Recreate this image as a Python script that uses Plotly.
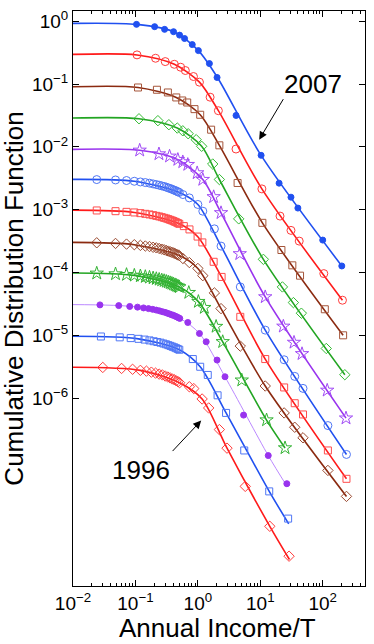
import plotly.graph_objects as go

# ---------------- data ----------------
years = [2007, 2006, 2005, 2004, 2003, 2002, 2001, 2000, 1999, 1998, 1997, 1996]

# 2007 – blue filled circles
x_2007 = [0.104, 0.203, 0.293, 0.408, 0.509, 0.612, 0.813, 1.02, 1.53, 2.03, 4.09, 10.3, 20, 31, 40, 100, 202]
cdf_2007 = [0.89, 0.818, 0.741, 0.68, 0.60, 0.53, 0.424, 0.34, 0.2115, 0.127, 0.0316, 0.00733, 0.00264, 0.00158, 0.00106, 3.28e-4, 1.27e-4]
# 2006 – red open circles
x_2006 = [0.106, 0.21, 0.30, 0.42, 0.53, 0.63, 0.85, 1.06, 1.57, 2.13, 4.08, 10.6, 20.7, 31, 42, 104, 207]
cdf_2006 = [0.2907, 0.257, 0.2275, 0.206, 0.185, 0.164, 0.1315, 0.107, 0.0617, 0.0376, 0.00923, 0.00214, 7.9e-4, 4.68e-4, 3.16e-4, 9.6e-5, 3.62e-5]
# 2005 – brown squares
x_2005 = [0.11, 0.221, 0.331, 0.451, 0.562, 0.675, 0.883, 1.09, 1.63, 2.21, 4.33, 10.8, 21.8, 32.6, 43.3, 108, 212]
cdf_2005 = [0.088, 0.081, 0.0733, 0.0611, 0.0547, 0.0508, 0.0398, 0.0324, 0.01875, 0.01057, 0.00266, 6.17e-4, 2.28e-4, 1.3e-4, 8.9e-5, 2.6e-5, 1.0e-5]
# 2004 – green diamonds
x_2004 = [0.114, 0.229, 0.343, 0.468, 0.574, 0.70, 0.94, 1.15, 1.73, 2.21, 4.51, 11.2, 22.6, 33.9, 45.5, 114, 226]
cdf_2004 = [0.028, 0.0261, 0.0225, 0.0199, 0.018, 0.01616, 0.013, 0.0102, 0.00533, 0.00302, 7.14e-4, 1.62e-4, 5.89e-5, 3.32e-5, 2.25e-5, 6.17e-6, 2.36e-6]
# 2003 – purple stars
x_2003 = [0.117, 0.238, 0.352, 0.478, 0.574, 0.69, 0.975, 1.20, 1.79, 2.35, 4.69, 12.0, 23.4, 34.7, 46.6, 118, 236]
cdf_2003 = [0.0088, 0.00769, 0.00707, 0.00626, 0.00574, 0.00521, 0.00384, 0.00301, 0.0016, 8.9e-4, 1.98e-4, 4.08e-5, 1.39e-5, 7.7e-6, 5.08e-6, 1.33e-6, 4.8e-7]
# 2002 – blue open circles
x_2002 = [0.024, 0.048, 0.072, 0.096, 0.12, 0.144, 0.168, 0.192, 0.216, 0.24, 0.264, 0.288, 0.312, 0.336, 0.36,
          0.384, 0.408, 0.432, 0.456, 0.48, 0.504, 0.576, 0.73, 1.0, 1.2, 1.84, 2.35, 4.78, 12.0, 24.1, 35.6, 48.3, 121, 240]
cdf_2002 = [0.00301, 0.00297, 0.00291, 0.00283, 0.00276, 0.0027, 0.00264, 0.00257, 0.00251, 0.00245, 0.00239, 0.00234,
            0.00228, 0.00222, 0.00217, 0.00212, 0.00206, 0.00202, 0.00197, 0.00192, 0.00188, 0.00174, 0.00154, 0.00121,
            9.46e-4, 4.95e-4, 2.63e-4, 5.89e-5, 1.21e-5, 4.08e-6, 2.22e-6, 1.43e-6, 3.66e-7, 1.27e-7]
# 2001 – red squares
x_2001 = [0.024, 0.048, 0.072, 0.096, 0.12, 0.144, 0.168, 0.192, 0.216, 0.24, 0.264, 0.288, 0.312, 0.336, 0.36,
          0.384, 0.408, 0.432, 0.456, 0.48, 0.504, 0.596, 0.734, 0.99, 1.18, 1.79, 2.4, 4.78, 12.0, 24.1, 35.6, 48.3, 121, 240]
cdf_2001 = [9.71e-4, 9.46e-4, 9.23e-4, 9.03e-4, 8.8e-4, 8.58e-4, 8.39e-4, 8.18e-4, 7.97e-4, 7.8e-4, 7.6e-4, 7.41e-4,
            7.25e-4, 7.07e-4, 6.89e-4, 6.74e-4, 6.57e-4, 6.4e-4, 6.26e-4, 6.1e-4, 5.95e-4, 5.47e-4, 4.85e-4, 3.73e-4,
            3.01e-4, 1.48e-4, 8.5e-5, 1.97e-5, 4.19e-6, 1.48e-6, 8.3e-7, 5.5e-7, 1.47e-7, 5.2e-8]
# 2000 – brown diamonds
x_2000 = [0.024, 0.048, 0.072, 0.096, 0.12, 0.144, 0.168, 0.192, 0.216, 0.24, 0.264, 0.288, 0.312, 0.336, 0.36,
          0.384, 0.408, 0.432, 0.456, 0.48, 0.504, 0.576, 0.73, 1.0, 1.2, 1.84, 2.35, 4.78, 12.0, 24.1, 35.6, 48.3, 121, 240]
cdf_2000 = [2.97e-4, 2.90e-4, 2.83e-4, 2.77e-4, 2.70e-4, 2.64e-4, 2.59e-4, 2.52e-4, 2.47e-4, 2.41e-4, 2.35e-4, 2.30e-4,
            2.24e-4, 2.19e-4, 2.14e-4, 2.09e-4, 2.05e-4, 2.0e-4, 1.95e-4, 1.90e-4, 1.86e-4, 1.67e-4, 1.44e-4, 1.16e-4,
            8.9e-5, 4.73e-5, 2.66e-5, 6.74e-6, 1.56e-6, 5.82e-7, 3.44e-7, 2.34e-7, 7.07e-8, 2.73e-8]
# 1999 – green stars
x_1999 = [0.024, 0.048, 0.072, 0.096, 0.12, 0.144, 0.168, 0.192, 0.216, 0.24, 0.264, 0.288, 0.312, 0.336, 0.36,
          0.384, 0.408, 0.432, 0.456, 0.48, 0.504, 0.716, 1.02, 1.27, 1.96, 2.5, 5.05, 12.6, 24.9]
cdf_1999 = [9.71e-5, 9.46e-5, 9.23e-5, 8.99e-5, 8.79e-5, 8.57e-5, 8.36e-5, 8.15e-5, 7.94e-5, 7.74e-5, 7.55e-5, 7.38e-5,
            7.19e-5, 7.01e-5, 6.84e-5, 6.67e-5, 6.5e-5, 6.34e-5, 6.19e-5, 6.04e-5, 5.89e-5, 4.78e-5, 3.44e-5, 2.76e-5,
            1.38e-5, 7.89e-6, 1.93e-6, 4.48e-7, 1.61e-7]
# 1998 – purple filled circles
x_1998 = [0.027, 0.054, 0.081, 0.108, 0.135, 0.162, 0.189, 0.216, 0.243, 0.27, 0.297, 0.324, 0.351, 0.378, 0.405,
          0.432, 0.459, 0.486, 0.513, 0.69, 1.06, 1.36, 2.03, 2.72, 5.4, 13.4, 26.6]
cdf_1998 = [3.05e-5, 2.97e-5, 2.88e-5, 2.81e-5, 2.73e-5, 2.66e-5, 2.59e-5, 2.52e-5, 2.45e-5, 2.38e-5, 2.32e-5, 2.25e-5,
            2.19e-5, 2.13e-5, 2.08e-5, 2.02e-5, 1.97e-5, 1.91e-5, 1.86e-5, 1.6e-5, 1.07e-5, 7.89e-6, 4.04e-6, 2.19e-6,
            5.37e-7, 1.22e-7, 4.35e-8]
# 1997 – blue squares
x_1997 = [0.028, 0.056, 0.084, 0.112, 0.14, 0.168, 0.196, 0.224, 0.252, 0.28, 0.308, 0.336, 0.364, 0.392, 0.42,
          0.448, 0.476, 0.504, 0.83, 1.09, 1.44, 2.07, 2.83, 5.53, 13.9, 27.9]
cdf_1997 = [9.58e-6, 9.29e-6, 9.03e-6, 8.79e-6, 8.55e-6, 8.3e-6, 8.05e-6, 7.83e-6, 7.64e-6, 7.41e-6, 7.2e-6, 6.98e-6,
            6.79e-6, 6.59e-6, 6.43e-6, 6.24e-6, 6.07e-6, 5.89e-6, 4.19e-6, 3.16e-6, 2.34e-6, 1.11e-6, 5.82e-7, 1.47e-7,
            3.28e-8, 1.21e-8]
# 1996 – red diamonds
x_1996 = [0.03, 0.06, 0.09, 0.12, 0.15, 0.18, 0.21, 0.24, 0.27, 0.3, 0.33, 0.36, 0.39, 0.42, 0.45, 0.48, 0.51,
          0.73, 0.86, 1.17, 1.49, 2.21, 2.93, 5.74, 14.2, 28.9]
cdf_1996 = [3.08e-6, 2.97e-6, 2.88e-6, 2.77e-6, 2.69e-6, 2.59e-6, 2.5e-6, 2.41e-6, 2.34e-6, 2.25e-6, 2.17e-6, 2.1e-6,
            2.02e-6, 1.96e-6, 1.89e-6, 1.83e-6, 1.76e-6, 1.52e-6, 1.42e-6, 9.7e-7, 6.98e-7, 3.16e-7, 1.6e-7, 3.94e-8,
            9.12e-9, 3.05e-9]

# fitted curves
fitx_2007 = [0.01, 0.105, 0.41, 1.02, 2.06, 10.3, 202]
fit_2007 = [0.923, 0.89, 0.68, 0.34, 0.127, 0.0073, 1.27e-4]
fitx_2006 = [0.01, 0.106, 0.42, 1.06, 2.13, 10.6, 207]
fit_2006 = [0.296, 0.29, 0.206, 0.107, 0.0376, 0.00214, 3.62e-5]
fitx_2005 = [0.01, 0.11, 0.451, 1.09, 2.21, 10.8, 212]
fit_2005 = [0.0903, 0.088, 0.0611, 0.0324, 0.01057, 6.17e-4, 1.0e-5]
fitx_2004 = [0.01, 0.114, 0.468, 1.15, 2.21, 11.2, 226]
fit_2004 = [0.0287, 0.028, 0.0199, 0.0102, 0.00302, 1.62e-4, 2.36e-6]
fitx_2003 = [0.01, 0.117, 0.478, 1.2, 2.35, 12, 236]
fit_2003 = [0.00912, 0.0088, 0.00626, 0.00301, 8.9e-4, 4.08e-5, 4.8e-7]
fitx_2002 = [0.01, 0.096, 0.504, 1.0, 2.35, 12, 240]
fit_2002 = [0.00303, 0.00283, 0.00188, 0.00121, 2.63e-4, 1.21e-5, 1.27e-7]
fitx_2001 = [0.01, 0.096, 0.504, 0.99, 2.4, 12, 240]
fit_2001 = [9.82e-4, 9.03e-4, 5.95e-4, 3.73e-4, 8.5e-5, 4.19e-6, 5.2e-8]
fitx_2000 = [0.01, 0.096, 0.504, 1.0, 2.35, 12, 240]
fit_2000 = [3.01e-4, 2.77e-4, 1.86e-4, 1.16e-4, 2.66e-5, 1.56e-6, 2.73e-8]
fitx_1999 = [0.01, 0.096, 0.504, 1.02, 2.5, 12.6, 24.9]
fit_1999 = [9.82e-5, 8.99e-5, 5.89e-5, 3.44e-5, 7.89e-6, 4.48e-7, 1.61e-7]
fitx_1998 = [0.01, 0.108, 0.513, 1.06, 2.72, 13.4, 27.0]
fit_1998 = [3.08e-5, 2.81e-5, 1.86e-5, 1.07e-5, 2.19e-6, 1.22e-7, 3.9e-8]
fitx_1997 = [0.01, 0.112, 0.504, 1.09, 2.83, 13.9, 28.5]
fit_1997 = [9.64e-6, 8.79e-6, 5.89e-6, 3.16e-6, 5.82e-7, 3.28e-8, 1.0e-8]
fitx_1996 = [0.01, 0.12, 0.51, 1.17, 2.93, 14.2, 29.3]
fit_1996 = [3.1e-6, 2.77e-6, 1.76e-6, 9.7e-7, 1.6e-7, 9.12e-9, 2.7e-9]

x_tick_vals = [0.01, 0.1, 1, 10, 100]
x_tick_text = ["10<sup>\u22122</sup>", "10<sup>\u22121</sup>", "10<sup>0</sup>", "10<sup>1</sup>", "10<sup>2</sup>"]
y_tick_vals = [1, 0.1, 0.01, 1e-3, 1e-4, 1e-5, 1e-6]
y_tick_text = ["10<sup>0</sup>", "10<sup>\u22121</sup>", "10<sup>\u22122</sup>", "10<sup>\u22123</sup>",
               "10<sup>\u22124</sup>", "10<sup>\u22125</sup>", "10<sup>\u22126</sup>"]

# ---------------- styles ----------------
BLUE = "#2050f0"
RED = "#ff1a1a"
BROWN = "#8b2a10"
GREEN = "#22a522"
PURPLE = "#9933ee"

series = [
    (x_2007, cdf_2007, fitx_2007, fit_2007, BLUE, BLUE, "circle", 6, 1.6),
    (x_2006, cdf_2006, fitx_2006, fit_2006, RED, "#ff3b3b", "circle-open", 8, 1.6),
    (x_2005, cdf_2005, fitx_2005, fit_2005, BROWN, "#a5553a", "square-open", 7, 1.6),
    (x_2004, cdf_2004, fitx_2004, fit_2004, GREEN, "#33bb33", "diamond-open", 8, 1.6),
    (x_2003, cdf_2003, fitx_2003, fit_2003, PURPLE, "#a04af5", "star-open", 10, 1.6),
    (x_2002, cdf_2002, fitx_2002, fit_2002, BLUE, "#4f76f5", "circle-open", 8, 1.6),
    (x_2001, cdf_2001, fitx_2001, fit_2001, RED, "#ff4d4d", "square-open", 7, 1.6),
    (x_2000, cdf_2000, fitx_2000, fit_2000, BROWN, "#9a4a30", "diamond-open", 8, 1.6),
    (x_1999, cdf_1999, fitx_1999, fit_1999, GREEN, "#33b333", "star-open", 10, 1.6),
    (x_1998, cdf_1998, fitx_1998, fit_1998, "#bb88ff", "#9933ee", "circle", 6, 1.0),
    (x_1997, cdf_1997, fitx_1997, fit_1997, BLUE, "#4f76f5", "square-open", 7, 1.6),
    (x_1996, cdf_1996, fitx_1996, fit_1996, RED, "#ff3b3b", "diamond-open", 8, 1.6),
]

fig = go.Figure()
for (xd, yd, xf, yf, lc, mc, sym, ms, lw), yr in zip(series, years):
    fig.add_trace(go.Scatter(x=xf, y=yf, mode="lines", name=f"fit {yr}",
                             line=dict(color=lc, width=lw, shape="spline", smoothing=0.8),
                             hoverinfo="skip", showlegend=False))
    fig.add_trace(go.Scatter(x=xd, y=yd, mode="markers", name=str(yr),
                             marker=dict(symbol=sym, size=ms, color=mc,
                                         line=dict(color=mc, width=1)),
                             showlegend=False))

FONT = "Liberation Sans, Arial, Helvetica, sans-serif"

fig.update_xaxes(type="log", range=[-2, 2.677], tickmode="array", tickvals=x_tick_vals, ticktext=x_tick_text,
                 ticks="inside", ticklen=6, tickwidth=1, tickcolor="black",
                 showline=True, linecolor="black", linewidth=1, mirror="allticks",
                 showgrid=False, zeroline=False,
                 minor=dict(ticks="inside", ticklen=3, tickwidth=1, tickcolor="black", showgrid=False,
                            tickvals=[v * m for v in [0.01, 0.1, 1, 10, 100] for m in range(2, 10)]),
                 tickfont=dict(family=FONT, size=19, color="black"))
fig.update_yaxes(type="log", range=[-8.99, 0.162], tickmode="array", tickvals=y_tick_vals, ticktext=y_tick_text,
                 ticks="inside", ticklen=6, tickwidth=1, tickcolor="black",
                 showline=True, linecolor="black", linewidth=1, mirror="allticks",
                 showgrid=False, zeroline=False,
                 tickfont=dict(family=FONT, size=19, color="black"))

fig.update_layout(
    width=374, height=644, autosize=False,
    margin=dict(l=73, r=8, t=9, b=58),
    paper_bgcolor="white", plot_bgcolor="white",
    font=dict(family=FONT, color="black"),
    annotations=[
        dict(text="Cumulative Distribution Function", xref="paper", yref="paper", x=-0.205, y=0.5,
             textangle=-90, showarrow=False, font=dict(size=26, family=FONT, color="black"),
             xanchor="center", yanchor="middle"),
        dict(text="Annual Income/T", xref="paper", yref="paper", x=0.496, y=-0.073,
             showarrow=False, font=dict(size=26, family=FONT, color="black"),
             xanchor="center", yanchor="middle"),
        dict(text="2007", x=1.844, y=-0.992, xref="x", yref="y", showarrow=False,
             font=dict(size=26, family=FONT, color="black"), xanchor="center", yanchor="middle"),
        dict(text="", x=0.982, y=-1.886, xref="x", yref="y", showarrow=True, axref="pixel", ayref="pixel",
             ax=25, ay=-42, arrowhead=2, arrowsize=1.6, arrowwidth=1, arrowcolor="black"),
        dict(text="1996", x=-0.904, y=-7.15, xref="x", yref="y", showarrow=False,
             font=dict(size=26, family=FONT, color="black"), xanchor="center", yanchor="middle"),
        dict(text="", x=0.053, y=-6.357, xref="x", yref="y", showarrow=True, axref="pixel", ayref="pixel",
             ax=-30, ay=32, arrowhead=2, arrowsize=1.6, arrowwidth=1, arrowcolor="black"),
    ],
)

# remove the browser's default 8px body margin so the figure fills the window exactly
fig.write_html("out.html", config={"displayModeBar": False},
               post_script="document.body.style.margin='0';document.body.style.overflow='hidden';")
